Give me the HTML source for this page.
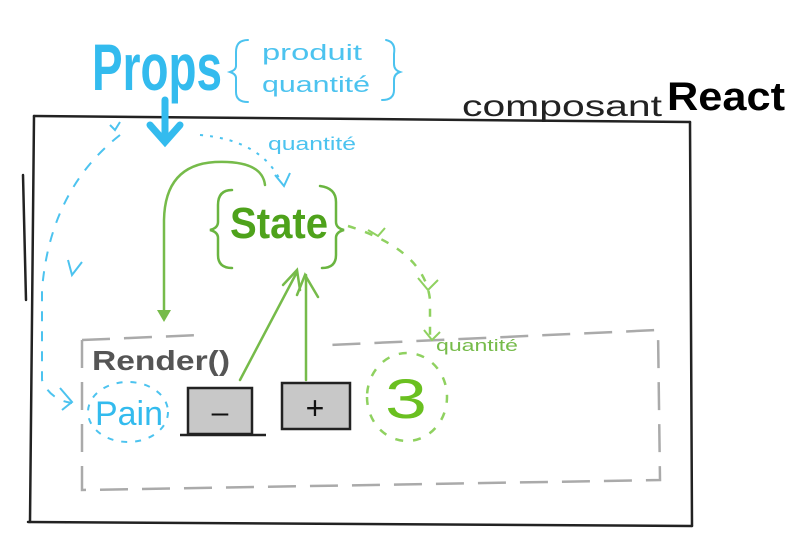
<!DOCTYPE html>
<html><head><meta charset="utf-8"><style>
html,body{margin:0;padding:0;background:#fff;width:803px;height:556px;overflow:hidden}
svg{display:block}
</style></head><body>
<svg width="803" height="556" viewBox="0 0 803 556" xmlns="http://www.w3.org/2000/svg" font-family="Liberation Sans, sans-serif">
<!-- main box -->
<g stroke="#222" stroke-width="2.5" fill="none" stroke-linecap="round">
<path d="M34 116 L690 122"/>
<path d="M34 116 L30 522"/>
<path d="M690 122 L692 526"/>
<path d="M28 522 L692 526"/>
<path d="M23 175 L26 300"/>
</g>
<!-- dashed gray box -->
<g stroke="#aaa" stroke-width="2.5" fill="none" stroke-dasharray="28 14">
<path d="M82 340 L82 490 L660 480 L658 330 L330 345"/>
<path d="M82 340 L200 335"/>
</g>
<!-- composant React -->
<text x="462" y="116" font-size="30" fill="#222" textLength="200" lengthAdjust="spacingAndGlyphs">composant</text>
<text x="667" y="110" font-size="40" font-weight="bold" fill="#000" textLength="118" lengthAdjust="spacingAndGlyphs">React</text>
<!-- Props -->
<text x="92" y="90" font-size="66" font-weight="bold" fill="#33bbee" textLength="130" lengthAdjust="spacingAndGlyphs">Props</text>
<g stroke="#4cc3ef" stroke-width="2" fill="none" stroke-linecap="round">
<path d="M248 40 Q236 40 236 52 L236 66 Q236 70 230 72 Q236 74 236 78 L236 92 Q236 102 248 102"/>
<path d="M386 40 Q396 42 394 54 L394 64 Q394 70 400 72 Q394 74 394 80 L394 90 Q394 100 382 100"/>
</g>
<text x="262" y="60" font-size="22" fill="#4cc3ef" textLength="100" lengthAdjust="spacingAndGlyphs">produit</text>
<text x="262" y="92" font-size="22" fill="#4cc3ef" textLength="108" lengthAdjust="spacingAndGlyphs">quantité</text>
<!-- blue arrow -->
<g stroke="#33bbee" stroke-width="7" fill="none" stroke-linecap="round">
<path d="M165 100 L165 140"/><path d="M150 125 L165 142 L180 125"/>
</g>
<!-- blue dashed -->
<g stroke="#4cc3ef" stroke-width="2" fill="none" stroke-dasharray="10 10">
<path d="M120 135 Q50 190 42 290 L42 380 Q50 400 72 403"/>
</g>
<g stroke="#4cc3ef" stroke-width="2" fill="none" stroke-dasharray="3 7">
<path d="M200 135 Q260 140 280 180"/>
</g>
<g stroke="#4cc3ef" stroke-width="2" fill="none">
<path d="M275 175 L284 186 L290 173"/>
<path d="M68 260 L72 275 L82 262"/>
<path d="M110 125 L115 130 L120 122"/>
<path d="M60 388 L72 402 L62 410"/>
</g>
<text x="268" y="150" font-size="18" fill="#4cc3ef" textLength="88" lengthAdjust="spacingAndGlyphs">quantité</text>
<!-- State braces -->
<g stroke="#6ab540" stroke-width="2.5" fill="none" stroke-linecap="round">
<path d="M232 190 Q218 190 218 205 L218 222 Q218 228 210 230 Q218 232 218 238 L218 255 Q218 268 232 268"/>
<path d="M320 186 Q336 188 336 202 L336 222 Q336 228 344 230 Q336 232 336 238 L336 255 Q336 268 322 268"/>
</g>
<text x="230" y="238" font-size="44" font-weight="bold" fill="#4ea21b" textLength="98" lengthAdjust="spacingAndGlyphs">State</text>
<!-- green arcs -->
<g stroke="#76bb4a" stroke-width="2.5" fill="none" stroke-linecap="round">
<path d="M265 185 Q262 160 215 162 Q165 165 164 220 L164 310"/>
<path d="M240 380 L297 272"/>
<path d="M306 380 L306 275"/>
<path d="M283 285 L297 270 L300 290"/>
<path d="M297 295 L305 275 L318 297"/>
</g>
<path d="M157 310 L171 310 L164 322 Z" fill="#76bb4a"/>
<g stroke="#8fd160" stroke-width="2.5" fill="none" stroke-dasharray="8 10">
<path d="M348 226 Q425 250 430 300 L430 335"/>
<path d="M367 397 a40 44 0 1 0 80 0 a40 44 0 1 0 -80 0"/>
</g>
<g stroke="#8fd160" stroke-width="2" fill="none">
<path d="M368 230 L378 236 L385 228"/>
<path d="M418 278 L428 290 L438 280"/>
<path d="M424 330 L432 340 L440 332"/>
</g>
<text x="436" y="351" font-size="17" fill="#76bb4a" textLength="82" lengthAdjust="spacingAndGlyphs">quantité</text>
<text x="385" y="418" font-size="56" fill="#6ac020" textLength="42" lengthAdjust="spacingAndGlyphs">3</text>
<!-- Render -->
<text x="92" y="370" font-size="28" fill="#555" font-weight="bold" textLength="138" lengthAdjust="spacingAndGlyphs">Render()</text>
<!-- Pain -->
<ellipse cx="128" cy="412" rx="40" ry="30" fill="none" stroke="#4cc3ef" stroke-width="2" stroke-dasharray="6 8"/>
<text x="95" y="425" font-size="34" fill="#33bbee" textLength="68" lengthAdjust="spacingAndGlyphs">Pain</text>
<!-- buttons -->
<rect x="188" y="388" width="64" height="46" fill="#c8c8c8" stroke="#222" stroke-width="2.5"/>
<path d="M180 435 L266 435" stroke="#222" stroke-width="2.5"/>
<text x="220" y="422" font-size="30" fill="#111" text-anchor="middle">–</text>
<rect x="282" y="383" width="68" height="46" fill="#c8c8c8" stroke="#222" stroke-width="2.5"/>
<text x="315" y="419" font-size="32" fill="#111" text-anchor="middle">+</text>
</svg>
</body></html>
